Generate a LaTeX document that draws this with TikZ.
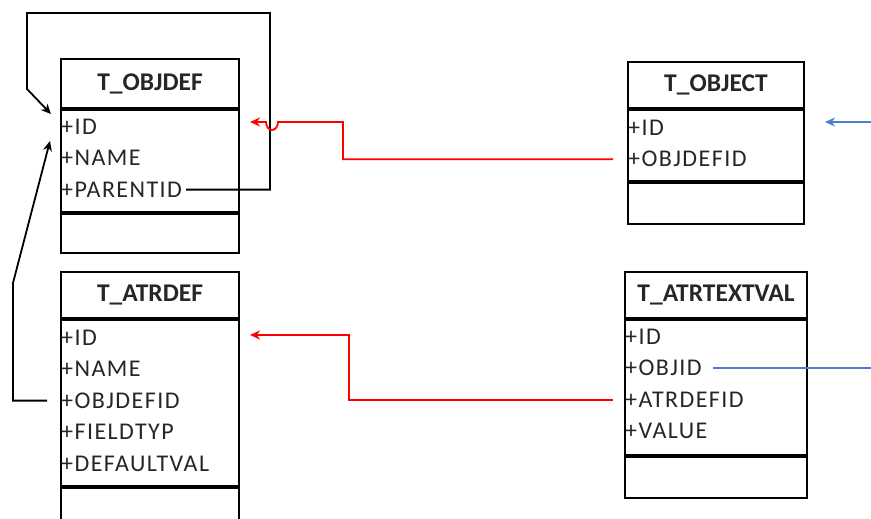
\documentclass[tikz,border=0pt]{standalone}
\usepackage{fontspec}
\setmainfont{Carlito}
\newfontfamily\fieldfont[LetterSpace=6]{Carlito}
\usepackage{tikz}
\usetikzlibrary{arrows.meta, positioning}
\definecolor{fkred}{HTML}{FF0000}
\definecolor{fkblue}{HTML}{4A80CF}
\definecolor{txt}{HTML}{262626}

\begin{document}
\begin{tikzpicture}[
  x=1pt, y=-1pt,
  node distance=0pt,
  hdr/.style={rectangle, draw=black, line width=2.1pt, anchor=north west, inner sep=0pt, text=txt, font=\fontsize{25.5}{28}\selectfont\bfseries},
  body/.style={rectangle, draw=black, line width=2.1pt, inner sep=0pt},
  field/.style={anchor=west, inner sep=1pt, minimum height=31pt, text=txt, font=\fontsize{24}{28}\fieldfont},
  link/.style={line width=1.8pt, black},
  arrow/.style={-{Stealth[length=10pt, width=9pt]}},
  fk/.style={line width=1.8pt, fkred},
  ref/.style={line width=1.8pt, fkblue}
]
  \useasboundingbox (0,0) rectangle (871,519);

  % T_OBJDEF
  \node[hdr, minimum width=178pt, minimum height=49pt] (objdef) at (60,58) {T\_OBJDEF};
  \node[body, minimum width=178pt, minimum height=102pt, below=of objdef] (objdefA) {};
  \node[body, minimum width=178pt, minimum height=39pt, below=of objdefA] (objdefM) {};
  \node[field, below right=2pt and 0pt of objdefA.north west, anchor=north west] (od-id) {+ID};
  \node[field, below right=of od-id.south west, anchor=north west] (od-name) {+NAME};
  \node[field, below right=of od-name.south west, anchor=north west] (od-parent) {+PARENTID};

  % T_OBJECT
  \node[hdr, minimum width=176pt, minimum height=46pt] (object) at (627,61) {T\_OBJECT};
  \node[body, minimum width=176pt, minimum height=71pt, below=of object] (objectA) {};
  \node[body, minimum width=176pt, minimum height=41pt, below=of objectA] (objectM) {};
  \node[field, below right=3pt and 0pt of objectA.north west, anchor=north west] (ob-id) {+ID};
  \node[field, below right=of ob-id.south west, anchor=north west] (ob-objdef) {+OBJDEFID};

  % T_ATRDEF
  \node[hdr, minimum width=178pt, minimum height=46pt] (atrdef) at (60,271) {T\_ATRDEF};
  \node[body, minimum width=178pt, minimum height=166pt, below=of atrdef] (atrdefA) {};
  \node[body, minimum width=178pt, minimum height=42pt, below=of atrdefA] (atrdefM) {};
  \node[field, below right=3pt and 0pt of atrdefA.north west, anchor=north west] (ad-id) {+ID};
  \node[field, below right=of ad-id.south west, anchor=north west] (ad-name) {+NAME};
  \node[field, below right=of ad-name.south west, anchor=north west] (ad-objdef) {+OBJDEFID};
  \node[field, below right=of ad-objdef.south west, anchor=north west] (ad-type) {+FIELDTYP};
  \node[field, below right=of ad-type.south west, anchor=north west] (ad-default) {+DEFAULTVAL};

  % T_ATRTEXTVAL
  \node[hdr, minimum width=182pt, minimum height=46pt] (textval) at (624,271) {T\_ATRTEXTVAL};
  \node[body, minimum width=182pt, minimum height=135pt, below=of textval] (textvalA) {};
  \node[body, minimum width=182pt, minimum height=41pt, below=of textvalA] (textvalM) {};
  \node[field, below right=2pt and 0pt of textvalA.north west, anchor=north west] (tv-id) {+ID};
  \node[field, below right=of tv-id.south west, anchor=north west] (tv-objid) {+OBJID};
  \node[field, below right=of tv-objid.south west, anchor=north west] (tv-atrdef) {+ATRDEFID};
  \node[field, below right=of tv-atrdef.south west, anchor=north west] (tv-value) {+VALUE};

  % free ends
  \coordinate (od-in1) at (51,114);
  \coordinate (od-in2) at (50,141);
  \coordinate (od-in3) at (250,122);
  \coordinate (ad-in) at (250,335);
  \coordinate (ob-in) at (825,122);
  \coordinate (ob-out) at (871,122);

  % relations
  \draw[link, arrow] ([xshift=3pt]od-parent.east) -| (270,13) -| (27,89) -- (od-in1);
  \draw[link, arrow] ([xshift=-13pt]ad-objdef.west) -| (13,283) -- (od-in2);
  \draw[fk, arrow] ([xshift=-14pt]ob-objdef.west) -| (343,122) -- (278,122)
    arc[start angle=0, end angle=180, x radius=6, y radius=8] -- (od-in3);
  \draw[fk, arrow] ([xshift=-11pt]tv-atrdef.west) -| (349,335) -- (ad-in);
  \draw[ref, arrow] (ob-out) -- (ob-in);
  \draw[ref] ([xshift=10pt]tv-objid.east) -- (tv-objid.east -| ob-out);
\end{tikzpicture}
\end{document}
